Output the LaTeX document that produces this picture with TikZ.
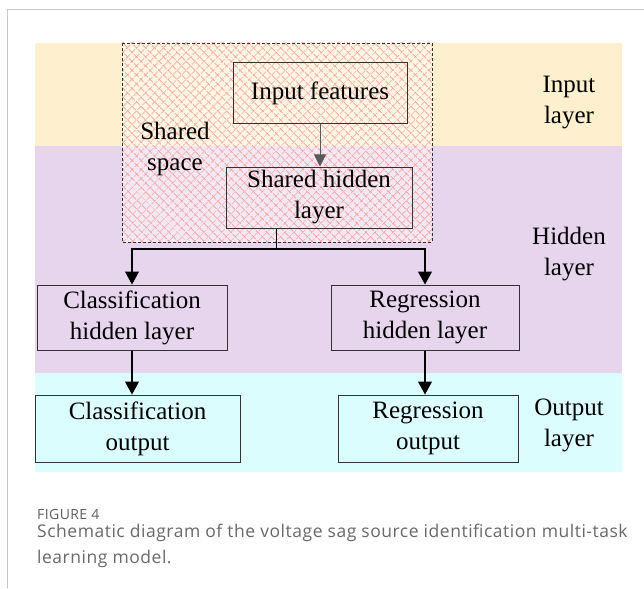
\documentclass[tikz,border=0pt]{standalone}
\usepackage{fontspec}
\setmainfont{Liberation Serif}
\newfontfamily\capfont[LetterSpace=3]{Open Sans}
\usetikzlibrary{patterns.meta,arrows.meta}
\definecolor{bandin}{RGB}{254,240,206}
\definecolor{bandhid}{RGB}{231,213,238}
\definecolor{bandout}{RGB}{219,253,253}
\definecolor{hatch}{RGB}{248,145,130}
\definecolor{boxline}{RGB}{50,50,50}
\definecolor{capgray}{RGB}{105,105,105}
\definecolor{figgray}{RGB}{95,95,95}
\definecolor{framegray}{RGB}{200,200,200}
\tikzset{
  box/.style={draw=boxline, line width=1pt, inner sep=0pt, align=center, font=\fontsize{25}{31}\selectfont},
  lbl/.style={align=center, inner sep=0pt, font=\fontsize{25}{31}\selectfont},
  conn/.style={draw=black, line width=1.1pt},
  arr/.style={conn, -{Triangle[length=13pt,width=14pt]}},
  garr/.style={draw=gray!70!black, line width=0.9pt, -{Triangle[length=12pt,width=12pt]}},
}
\begin{document}
\begin{tikzpicture}[x=1pt,y=-1pt]
\useasboundingbox (0,0) rectangle (644,588);
\fill[white] (0,0) rectangle (644,588);
% frame
\draw[framegray, line width=1pt] (7,588) -- (7,10) -- (644,10);
% bands
\fill[bandin] (35,43) rectangle (622,146);
\fill[bandhid] (35,146) rectangle (622,373);
\fill[bandout] (35,373) rectangle (622,472);
% shared space
\fill[white, fill opacity=0.45] (122,43) rectangle (432,242);
\fill[pattern={Lines[angle=45,distance=6.4pt,line width=0.7pt]}, pattern color=hatch] (122,43) rectangle (432,242);
\fill[pattern={Lines[angle=-45,distance=6.4pt,line width=0.7pt]}, pattern color=hatch] (122,43) rectangle (432,242);
\draw[boxline, line width=0.6pt, dash pattern=on 3pt off 2pt] (122,43) rectangle (432,242);
% nodes
\node[box, minimum width=174pt, minimum height=61pt] (if) at (320,93.5) {Input features};
\node[box, minimum width=186pt, minimum height=61pt] (sh) at (319,197.5) {Shared hidden\\layer};
\node[box, minimum width=190pt, minimum height=65pt] (ch) at (132,317.5) {Classification\\hidden layer};
\node[box, minimum width=188pt, minimum height=65pt] (rh) at (425,317.5) {Regression\\hidden layer};
\node[box, minimum width=205pt, minimum height=67pt] (co) at (137.5,428.5) {Classification\\output};
\node[box, minimum width=180pt, minimum height=67pt] (ro) at (428,428.5) {Regression\\output};
\node[lbl] (ss) at (175,149) {Shared\\space};
\node[lbl] (il) at (569,103) {Input\\layer};
\node[lbl] (hl) at (569,254) {Hidden\\layer};
\node[lbl] (ol) at (569,425) {Output\\layer};
% connectors
\draw[garr] (if.south) -- (if.south |- sh.north);
\coordinate (j) at (276.5,249);
\draw[conn] (sh.south -| j) -- (j);
\draw[arr] (j) -| (ch.north);
\draw[arr] (j) -| (rh.north);
\draw[arr] (ch.south) -- (ch.south |- co.north);
\draw[arr] (rh.south) -- (rh.south |- ro.north);
% caption
\node[anchor=base west, inner sep=0pt, text=figgray, font=\capfont\fontsize{14}{16}\selectfont] (fig) at (37,519.5) {FIGURE 4};
\node[anchor=base west, inner sep=0pt, text=capgray, align=left, font=\capfont\fontsize{17.5}{25.5}\selectfont] (cap) at (37,563) {Schematic diagram of the voltage sag source identification multi-task\\learning model.};
\end{tikzpicture}
\end{document}
